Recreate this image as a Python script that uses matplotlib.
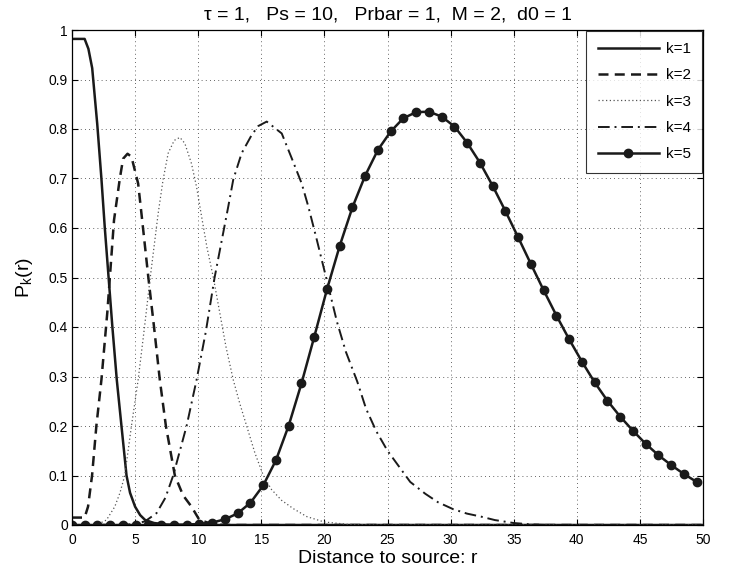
import numpy as np
import matplotlib
matplotlib.use("Agg")
import matplotlib.pyplot as plt
from matplotlib.ticker import FormatStrFormatter

plt.rcParams['font.family'] = ['Liberation Sans', 'DejaVu Sans']
plt.rcParams['mathtext.default'] = 'regular'

# k=1..4 as (r, P) points
r1 = [0, 1.0, 1.3, 1.6, 2.0, 2.33, 2.6, 2.9, 3.2, 3.55, 3.92, 4.32, 4.6, 5.0, 5.4, 5.8, 6.5, 7.5, 9, 50]
p1 = [0.982, 0.982, 0.962, 0.923, 0.81, 0.70, 0.60, 0.50, 0.40, 0.293, 0.20, 0.10, 0.065, 0.037, 0.02, 0.01, 0.004, 0.001, 0, 0]

r2 = [0, 1.0, 1.27, 1.59, 1.93, 2.33, 2.8, 3.33, 3.79, 4.05, 4.4, 4.71, 5.24, 5.5, 6.05, 6.5,
      6.96, 7.44, 8.15, 8.8, 9.47, 10.1, 11, 12, 50]
p2 = [0.015, 0.015, 0.037, 0.10, 0.20, 0.293, 0.43, 0.616, 0.70, 0.74, 0.75, 0.744, 0.69, 0.63, 0.50, 0.40,
      0.293, 0.20, 0.10, 0.06, 0.037, 0.01, 0.003, 0, 0]

r3 = [0, 2.0, 2.73, 3.39, 3.8, 4.18, 4.71, 5.24, 5.7, 6.2, 6.83, 7.22, 7.62, 8.1, 8.55, 8.94, 9.47, 9.87,
      10.27, 10.7, 11.2, 11.7, 12.2, 12.78, 13.3, 13.84, 14.5, 15.16, 15.8, 16.6, 17.54, 18.6, 20, 22, 24, 50]
p3 = [0, 0.001, 0.01, 0.037, 0.065, 0.10, 0.20, 0.293, 0.39, 0.50, 0.63, 0.698, 0.751, 0.777, 0.783, 0.771, 0.73, 0.683,
      0.623, 0.56, 0.50, 0.43, 0.36, 0.293, 0.245, 0.20, 0.145, 0.10, 0.072, 0.05, 0.033, 0.017, 0.006, 0.001, 0, 0]

r4 = [0, 4.5, 5.77, 6.7, 7.4, 8.02, 9.08, 9.87, 10.6, 11.3, 12.38, 12.78, 13.44, 14.24, 14.76, 15.43, 16.62,
      17.41, 18.2, 18.73, 19.4, 20.32, 21.0, 21.7, 22.6, 23.3, 24.1, 25.0, 26.0, 26.8, 28.0, 29.0, 30.2,
      31.3, 32.4, 33.5, 35.0, 36.5, 38, 50]
p4 = [0, 0.001, 0.007, 0.024, 0.055, 0.10, 0.20, 0.293, 0.39, 0.50, 0.643, 0.698, 0.751, 0.788, 0.806, 0.815, 0.791,
      0.741, 0.69, 0.643, 0.576, 0.481, 0.41, 0.35, 0.29, 0.235, 0.19, 0.15, 0.115, 0.087, 0.063, 0.046, 0.032,
      0.023, 0.017, 0.01, 0.004, 0.001, 0, 0]

# k=5 sampled with markers
r5 = np.linspace(0, 49.5, 50)
p5 = [0, 0, 0, 0, 0, 0, 0, 0, 0, 0.001,
      0.002, 0.005, 0.0115, 0.0236, 0.045, 0.080, 0.131, 0.201, 0.286, 0.38,
      0.476, 0.564, 0.642, 0.706, 0.758, 0.795, 0.822, 0.834, 0.835, 0.825,
      0.805, 0.772, 0.732, 0.685, 0.634, 0.581, 0.527, 0.474, 0.423, 0.375,
      0.330, 0.288, 0.251, 0.219, 0.1905, 0.164, 0.141, 0.121, 0.103, 0.087]

fig = plt.figure(figsize=(7.36, 5.76), dpi=100)
ax = fig.add_axes([72 / 736, 1 - 525 / 576, (703 - 72) / 736, (525 - 30) / 576])

c = '#1a1a1a'
ax.plot(r1, p1, color=c, lw=1.8, ls='-', label='k=1')
ax.plot(r2, p2, color=c, lw=1.8, ls=(0, (4, 2.5)), label='k=2')
ax.plot(r3, p3, color='#555555', lw=0.9, ls=(0, (1, 2)), label='k=3')
ax.plot(r4, p4, color=c, lw=1.4, ls=(0, (6, 2.5, 1, 2.5)), label='k=4')
ax.plot(r5, p5, color=c, lw=1.8, ls='-', marker='o', ms=6, label='k=5')

ax.set_xlim(0, 50)
ax.set_ylim(0, 1)
ax.set_xticks(np.arange(0, 51, 5))
ax.set_yticks(np.arange(0, 1.01, 0.1))
ax.yaxis.set_major_formatter(FormatStrFormatter('%g'))
ax.tick_params(direction='in', top=True, right=True, labelsize=10, length=4, width=0.8)
ax.tick_params(axis='x', pad=6)
ax.tick_params(axis='y', pad=3)
ax.grid(True, color='#333333', ls=(0, (1, 4)), lw=0.6)
for s in ax.spines.values():
    s.set_linewidth(0.9)

ax.set_xlabel('Distance to source: r', fontsize=14, labelpad=2)
ax.set_ylabel('P$_{k}$(r)', fontsize=14, labelpad=10)
ax.set_title('\u03c4 = 1,   Ps = 10,   Prbar = 1,  M = 2,  d0 = 1', fontsize=14, pad=7.5)

leg = ax.legend(loc='upper right', fontsize=11, frameon=True, fancybox=False, edgecolor='black',
                handlelength=4.0, borderaxespad=0.05, labelspacing=0.8, handletextpad=0.45,
                borderpad=0.75)
leg.get_frame().set_linewidth(0.8)

fig.savefig('out.png', dpi=100)
